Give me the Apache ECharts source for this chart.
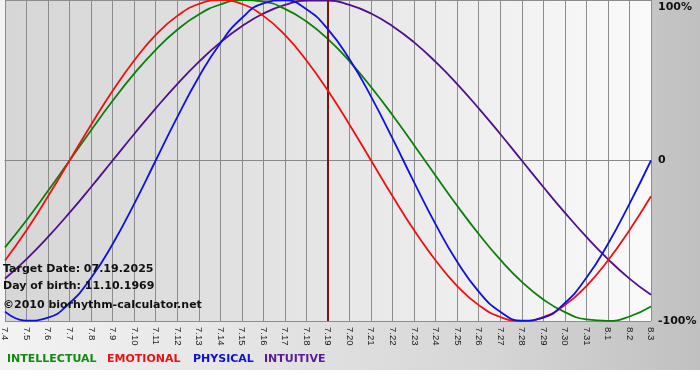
<!DOCTYPE html>
<html>
<head>
<meta charset="utf-8">
<script src="https://cdn.jsdelivr.net/npm/echarts@6/dist/echarts.min.js"></script>
<style>
  html, body { margin: 0; padding: 0; background: #ffffff; }
  #wrap { position: relative; width: 700px; height: 380px; background: #ffffff; }
  #bg { position: absolute; left: 0; top: 0; width: 700px; height: 370px;
        background: linear-gradient(to right, #f3f3f3 0%, #d6d6d6 70%, #c0c0c0 100%); }
  #chart { position: absolute; left: 0; top: 0; width: 700px; height: 380px; }
</style>
</head>
<body>
<div id="wrap"><div id="bg"></div><div id="chart"></div></div>
<script>
// Day labels (month.day), 2025-07-04 .. 2025-08-03
const dates = ['7.4','7.5','7.6','7.7','7.8','7.9','7.10','7.11','7.12','7.13','7.14','7.15','7.16','7.17','7.18','7.19','7.20','7.21','7.22','7.23','7.24','7.25','7.26','7.27','7.28','7.29','7.30','7.31','8.1','8.2','8.3'];

// Cycle values (-1 .. 1) read for each day
const intellectual = [-0.541,-0.372,-0.189,0,0.189,0.372,0.541,0.690,0.815,0.910,0.972,0.999,0.990,0.945,0.866,0.756,0.618,0.458,0.282,0.095,-0.095,-0.282,-0.458,-0.618,-0.756,-0.866,-0.945,-0.990,-0.999,-0.972,-0.910];
const emotional = [-0.623,-0.434,-0.223,0,0.223,0.434,0.623,0.782,0.901,0.975,1,0.975,0.901,0.782,0.623,0.434,0.223,0,-0.223,-0.434,-0.623,-0.782,-0.901,-0.975,-1,-0.975,-0.901,-0.782,-0.623,-0.434,-0.223];
const physical = [-0.942,-0.998,-0.979,-0.888,-0.731,-0.520,-0.270,0,0.270,0.520,0.731,0.888,0.979,0.998,0.942,0.817,0.631,0.398,0.136,-0.136,-0.398,-0.631,-0.817,-0.942,-0.998,-0.979,-0.888,-0.731,-0.520,-0.270,0];
const intuitive = [-0.736,-0.614,-0.476,-0.325,-0.165,0,0.165,0.325,0.476,0.614,0.736,0.837,0.916,0.969,0.997,0.997,0.969,0.916,0.837,0.736,0.614,0.476,0.325,0.165,0,-0.165,-0.325,-0.476,-0.614,-0.736,-0.837];

const targetDay = '7.19';
const yTickLabels = { '1': '100%', '0': '0', '-1': '-100%' };
const seriesNames = ['INTELLECTUAL', 'EMOTIONAL', 'PHYSICAL', 'INTUITIVE'];
const infoLines = ['Target Date: 07.19.2025', 'Day of birth: 11.10.1969', '\u00a92010 biorhythm-calculator.net'];

const colors = { INTELLECTUAL: '#0a800a', EMOTIONAL: '#f01010', PHYSICAL: '#1010e0', INTUITIVE: '#50108c' };
const legendColors = { INTELLECTUAL: '#128a12', EMOTIONAL: '#ee1111', PHYSICAL: '#1010d8', INTUITIVE: '#5a1a9a' };
const dataByName = { INTELLECTUAL: intellectual, EMOTIONAL: emotional, PHYSICAL: physical, INTUITIVE: intuitive };

const chart = echarts.init(document.getElementById('chart'), null, { renderer: 'canvas' });

const drawOrder = ['INTUITIVE', 'INTELLECTUAL', 'EMOTIONAL', 'PHYSICAL'];
const series = drawOrder.map((name, idx) => {
  const s = {
    name: name,
    type: 'line',
    data: dataByName[name],
    smooth: 0.5,
    showSymbol: false,
    clip: true,
    lineStyle: { color: colors[name], width: 1.8 },
    itemStyle: { color: colors[name] },
    z: 3 + idx
  };
  if (name === 'PHYSICAL') {
    s.markLine = {
      silent: true,
      symbol: ['none', 'none'],
      label: { show: false },
      lineStyle: { color: '#7c1414', width: 2, type: 'solid' },
      data: [{ xAxis: targetDay }]
    };
  }
  return s;
});

const legendX = { INTELLECTUAL: 7, EMOTIONAL: 107, PHYSICAL: 193, INTUITIVE: 264 };
const graphics = [];
seriesNames.forEach(n => {
  graphics.push({
    type: 'text', left: legendX[n], top: 354, z: 20,
    style: { text: n, fill: legendColors[n], font: 'bold 11px "DejaVu Sans"' }
  });
});
const infoTops = [264, 281, 300];
infoLines.forEach((t, i) => {
  graphics.push({
    type: 'text', left: 3, top: infoTops[i], z: 20,
    style: { text: t, fill: '#111111', font: 'bold 11px "DejaVu Sans"' }
  });
});

chart.setOption({
  animation: false,
  backgroundColor: 'transparent',
  grid: {
    left: 0, top: 0, width: 651, height: 321,
    show: true,
    borderWidth: 0,
    backgroundColor: new echarts.graphic.LinearGradient(0, 0, 1, 0, [
      { offset: 0, color: '#d6d6d6' },
      { offset: 0.5, color: '#e6e6e6' },
      { offset: 1, color: '#fafafa' }
    ])
  },
  xAxis: {
    type: 'category',
    data: dates,
    boundaryGap: false,
    axisLine: { show: true, lineStyle: { color: '#888888', width: 1 } },
    axisTick: { show: true, interval: 0, length: 5, lineStyle: { color: '#888888' } },
    splitLine: { show: true, interval: 0, lineStyle: { color: '#8c8c8c', width: 1 } },
    axisLabel: {
      interval: 0, rotate: -90, margin: 6,
      fontFamily: 'Liberation Sans', fontSize: 9.5, color: '#1a1a1a'
    }
  },
  yAxis: {
    type: 'value',
    position: 'right',
    min: -1, max: 1, interval: 1,
    axisLine: { show: false },
    axisTick: { show: false },
    splitLine: { show: true, lineStyle: { color: '#8c8c8c', width: 1 } },
    axisLabel: {
      margin: 7,
      fontFamily: 'DejaVu Sans', fontWeight: 'bold', fontSize: 11, color: '#111111',
      formatter: v => {
        const t = yTickLabels[String(v)];
        return v === 1 ? '{t|' + t + '}' : t;
      },
      rich: { t: { fontFamily: 'DejaVu Sans', fontWeight: 'bold', fontSize: 11, color: '#111111', padding: [14, 0, 0, 0] } }
    }
  },
  graphic: graphics,
  series: series
});
</script>
</body>
</html>
